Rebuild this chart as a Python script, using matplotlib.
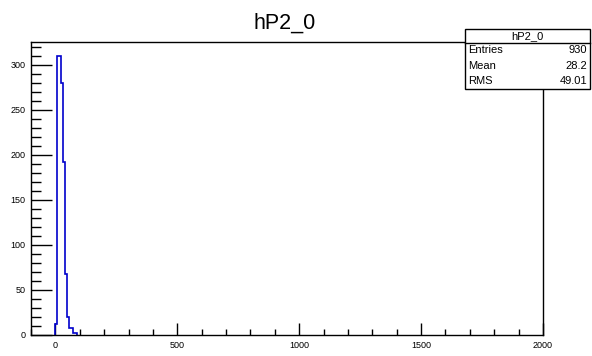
import numpy as np
import matplotlib.pyplot as plt
from matplotlib.patches import Rectangle
from matplotlib.ticker import MultipleLocator

plt.rcParams['font.family'] = ['Liberation Sans', 'DejaVu Sans']

# histogram hP2_0: 256 bins from -100 to 2000
title = "hP2_0"
x_min, x_max, n_bins = -100, 2000, 256
first_bin = 12
peak_counts = [12, 310, 310, 280, 192, 68, 20, 8, 8, 2, 2]
stats_names = ["Entries", "Mean", "RMS"]
stats_values = ["930", "28.2", "49.01"]

edges = np.linspace(x_min, x_max, n_bins + 1)
counts = np.zeros(n_bins)
counts[first_bin:first_bin + len(peak_counts)] = peak_counts

fig = plt.figure(figsize=(5.92, 3.56), dpi=100)
ax = fig.add_axes([31/592, 1-335/356, 512/592, 293/356])

# only the non-empty part, so the blue line does not cover the frame
lo, hi = first_bin, first_bin + len(peak_counts)
ax.stairs(counts[lo:hi], edges[lo:hi+1], color='#0000cc', lw=1.2, baseline=0, zorder=2)
ax.set_xlim(x_min, x_max)
ax.set_ylim(0, max(peak_counts) * 1.05)

ax.xaxis.set_major_locator(MultipleLocator(500))
ax.xaxis.set_minor_locator(MultipleLocator(100))
ax.yaxis.set_major_locator(MultipleLocator(50))
ax.yaxis.set_minor_locator(MultipleLocator(10))
ax.tick_params(which='both', direction='in', top=False, right=False,
               labelsize=6.5, width=1, color='black')
ax.tick_params(axis='x', which='major', length=8.5, pad=4)
ax.tick_params(axis='x', which='minor', length=4.3)
ax.tick_params(axis='y', which='major', length=15, pad=4)
ax.tick_params(axis='y', which='minor', length=7.5)
for s in ax.spines.values():
    s.set_linewidth(1)
    s.set_zorder(3)

fig.text(285/592, 1-29/356, title, ha='center', va='baseline', fontsize=15.5)

# stats box
bx0, bx1 = 465/592, 590/592
by_top, by_bot = 1-29/356, 1-89/356
by_sep = 1-42.5/356
fig.add_artist(Rectangle((bx0, by_bot), bx1-bx0, by_top-by_bot, transform=fig.transFigure,
                         facecolor='white', edgecolor='black', lw=1, zorder=5))
fig.add_artist(plt.Line2D([bx0, bx1], [by_sep, by_sep], transform=fig.transFigure,
                          color='black', lw=1, zorder=6))
fig.text((bx0+bx1)/2, (by_top+by_sep)/2, title, ha='center', va='center', fontsize=8, zorder=7)
row_h = (by_sep - by_bot) / 3
for i, (nm, val) in enumerate(zip(stats_names, stats_values)):
    yy = by_sep - row_h*(i+0.5)
    fig.text(bx0 + 3/592, yy, nm, ha='left', va='center', fontsize=8, zorder=7)
    fig.text(bx1 - 3/592, yy, val, ha='right', va='center', fontsize=8, zorder=7)

fig.savefig('out.png', dpi=100)
